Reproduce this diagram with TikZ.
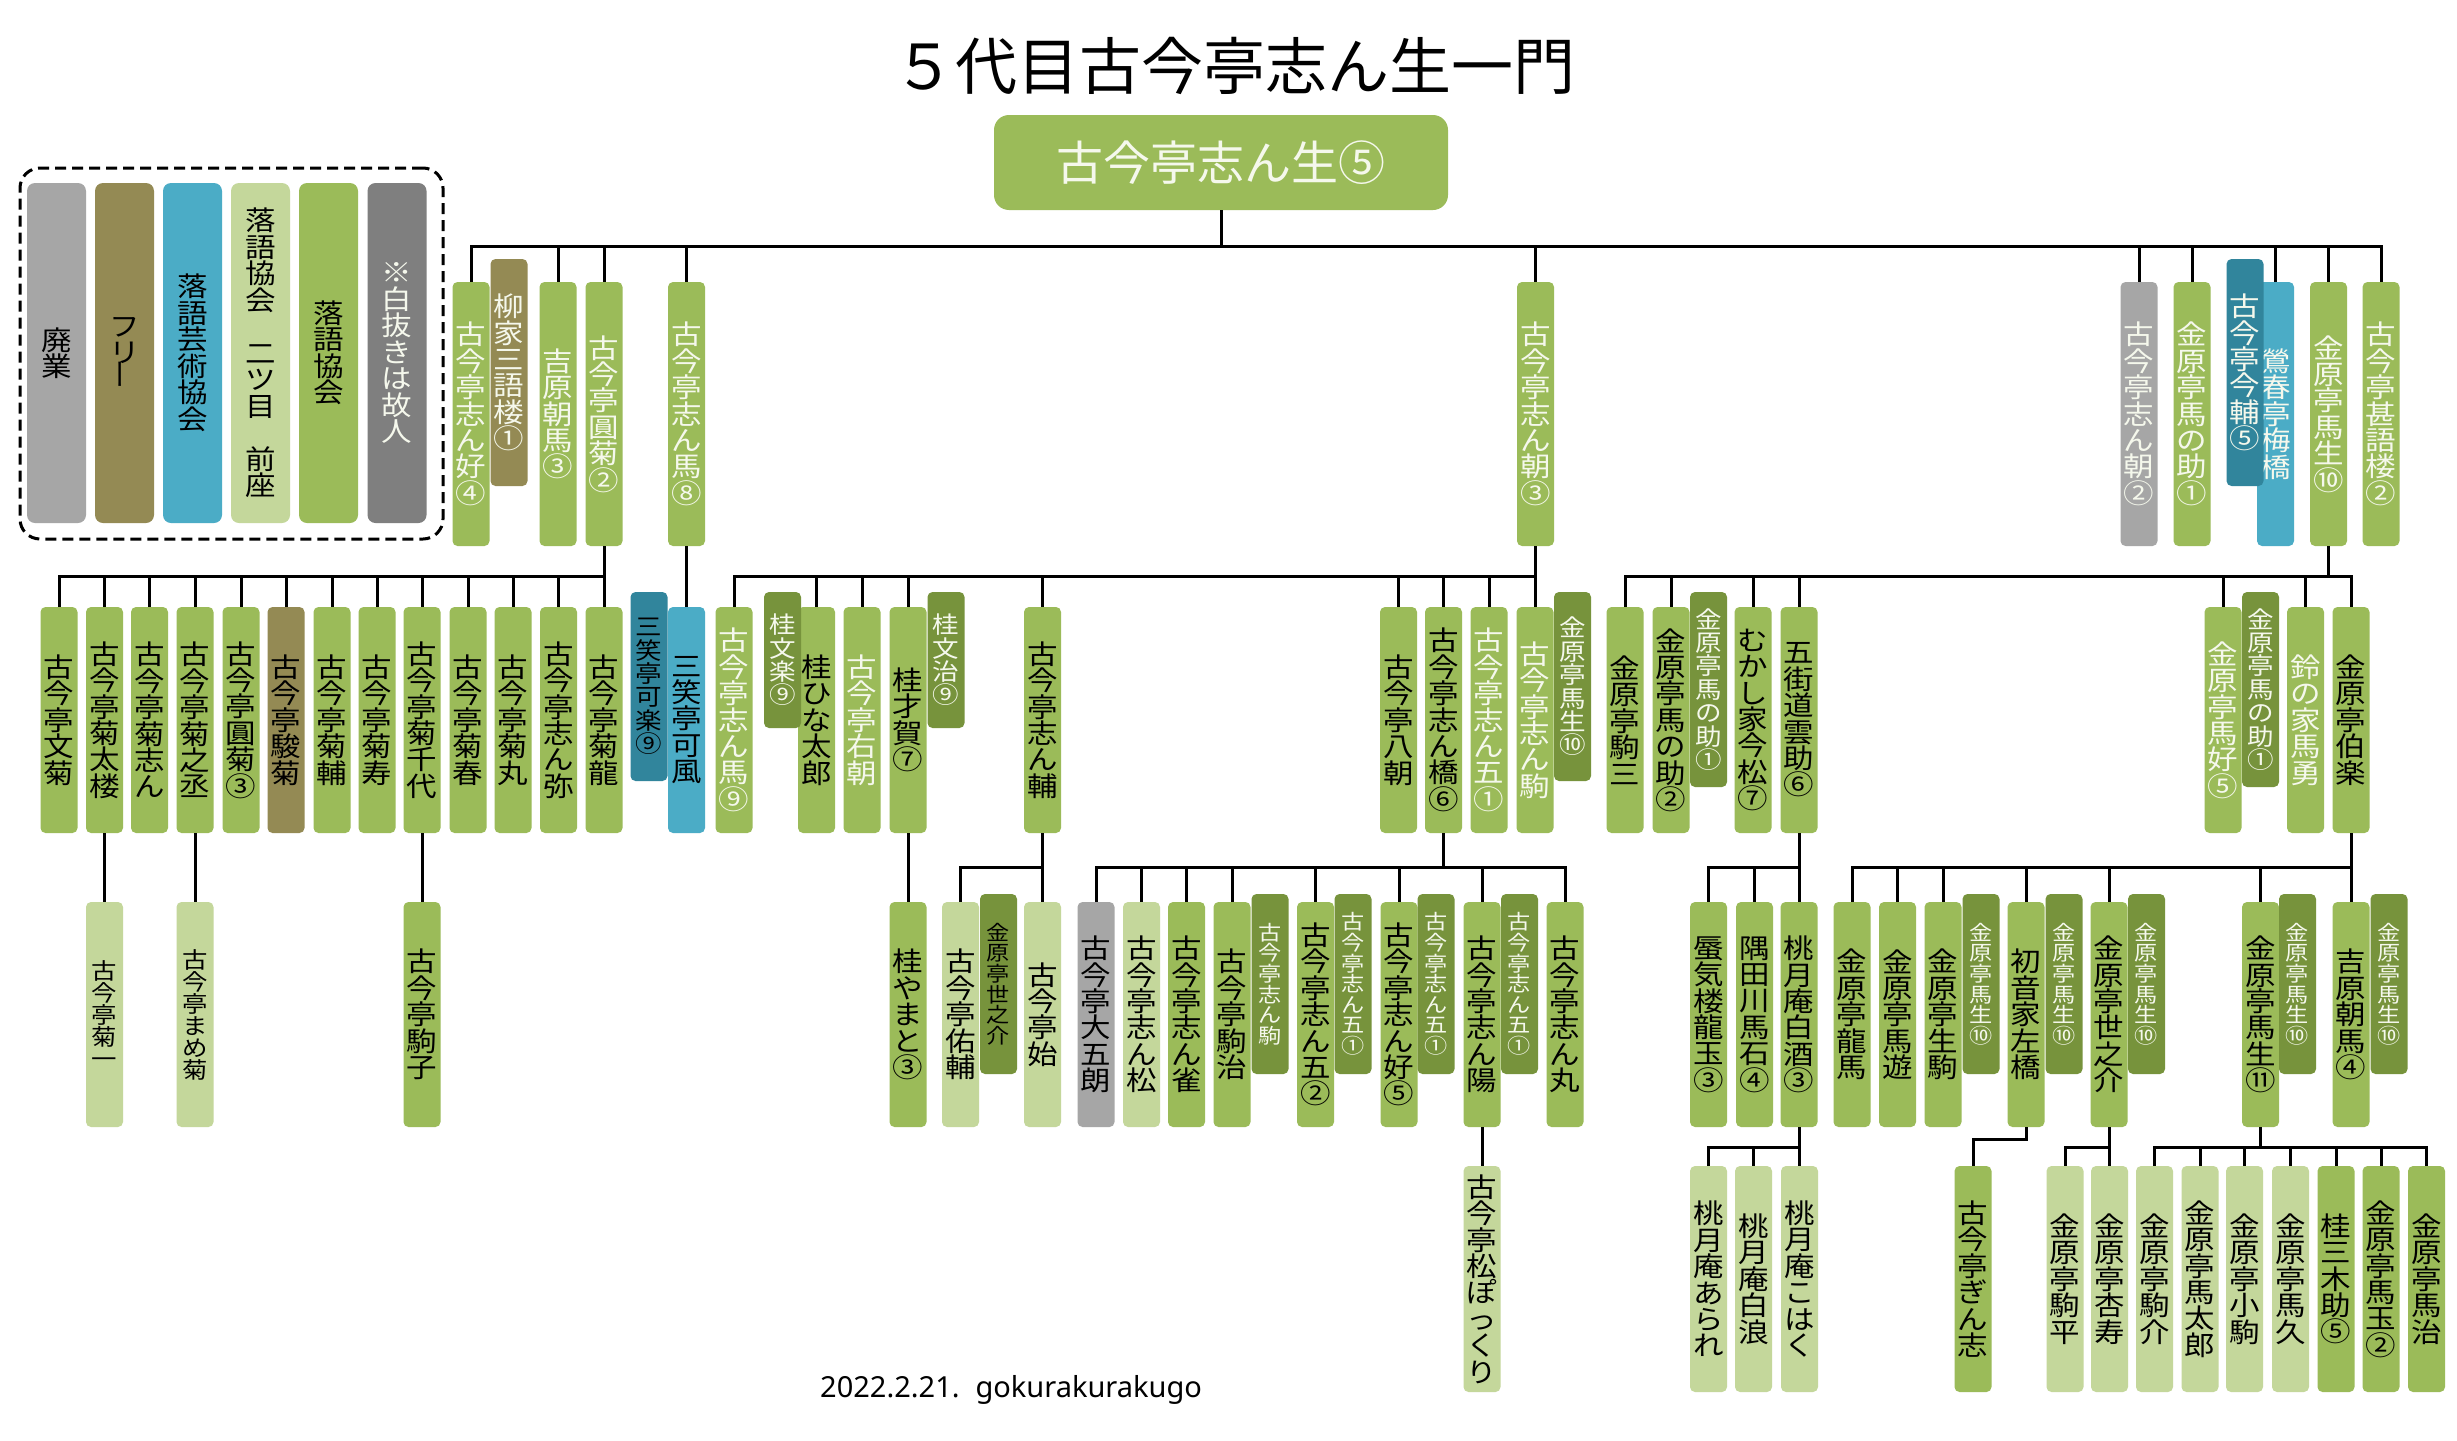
\documentclass[tikz,border=0pt]{standalone}
\usepackage{fontspec}
\usepackage{graphicx}
\setmainfont{Noto Sans CJK JP}
\newfontfamily\vf{Noto Sans CJK JP}[FakeStretch=1.13]
\newfontfamily\footf{Noto Sans}
\definecolor{gM}{HTML}{9BBB59}
\definecolor{gL}{HTML}{C4D79B}
\definecolor{gD}{HTML}{77933C}
\definecolor{kh}{HTML}{948A54}
\definecolor{gy}{HTML}{A6A6A6}
\definecolor{dg}{HTML}{7F7F7F}
\definecolor{bl}{HTML}{4BACC6}
\definecolor{tl}{HTML}{31859C}
\definecolor{wt}{HTML}{F5F8EC}
\makeatletter
\def\vt@end{\vt@end@}
\newcommand\VT[1]{\let\vt@acc\@empty\vt@go#1\vt@end\vt@acc}
\def\vt@go#1{%
  \ifx\vt@end#1%
    \let\vt@next\relax
  \else
    \ifx\vt@acc\@empty
      \def\vt@acc{#1}%
    \else
      \expandafter\def\expandafter\vt@acc\expandafter{\vt@acc\\#1}%
    \fi
    \let\vt@next\vt@go
  \fi
  \vt@next}
\makeatother
\newcommand\fA{\vf\fontsize{27}{26.4}\selectfont\lineskiplimit=-100pt\relax}
\newcommand\fB{\vf\fontsize{23.5}{23.4}\selectfont\lineskiplimit=-100pt\relax}
\newcommand\fC{\vf\fontsize{20.5}{20.6}\selectfont\lineskiplimit=-100pt\relax}
\newcommand\fD{\vf\fontsize{22.5}{22}\selectfont\lineskiplimit=-100pt\relax}
\newcommand\fL{\vf\fontsize{27}{26.5}\selectfont\lineskiplimit=-100pt\relax}
\tikzset{
  bx/.style={rectangle, rounded corners=5pt, inner sep=0pt, minimum width=37pt, align=center, font=\fA},
  rowA/.style={bx, minimum height=264pt},
  ovA/.style={bx, minimum height=227pt},
  rowB/.style={bx, minimum height=226pt},
  ovB/.style={bx, minimum height=189pt, font=\fB},
  ovBm/.style={bx, minimum height=195pt, font=\fB},
  ovBs/.style={bx, minimum height=136pt, font=\fB},
  rowC/.style={bx, minimum height=225pt},
  ovC/.style={bx, minimum height=180pt, font=\fC},
  rowD/.style={bx, minimum height=226pt},
  sM/.style={fill=gM, text=black},
  sMw/.style={fill=gM, text=wt},
  sL/.style={fill=gL, text=black},
  sDw/.style={fill=gD, text=wt},
  sDk/.style={fill=gD, text=black},
  lgb/.style={rectangle, rounded corners=8pt, inner sep=0pt, minimum width=59pt, minimum height=340pt, align=center, font=\fL},
  conn/.style={line width=3pt},
}
\begin{document}
\begin{tikzpicture}[x=1pt,y=-1pt]
\fill[white] (0,0) rectangle (2457,1440);
\useasboundingbox (0,0) rectangle (2457,1440);
% title and root
\node[inner sep=0pt, font=\fontsize{62}{62}\selectfont] (title) at (1234,66) {５代目古今亭志ん生一門};
\node[rectangle, rounded corners=15pt, fill=gM, text=wt, minimum width=454pt, minimum height=95pt, inner sep=0pt, font=\fontsize{47}{47}\selectfont] (root) at (1221,162.5) {古今亭志ん生⑤};
% legend
\node[draw, line width=3pt, dash pattern=on 11pt off 6pt, rounded corners=20pt, minimum width=423pt, minimum height=371pt, inner sep=0pt] (legend) at (231.5,353.5) {};
\node[lgb, fill=gy, text=black] (lg1) at (56.5,353) {\VT{廃業}};
\node[lgb, fill=kh, text=black] (lg2) at (124.5,353) {フ\\リ\\\rotatebox{90}{ー}};
\node[lgb, fill=bl, text=black] (lg3) at (192.5,353) {\VT{落語芸術協会}};
\node[lgb, fill=gL, text=black] (lg4) at (260.5,353) {落\\語\\協\\会\\\mbox{}\\二\\ツ\\目\\\mbox{}\\前\\座};
\node[lgb, fill=gM, text=black] (lg5) at (328.5,353) {\VT{落語協会}};
\node[lgb, fill=dg, text=wt] (lg6) at (397,353) {\VT{※白抜きは故人}};
% row 1
\node[rowA, sMw] (n1a) at (471,414) {\VT{古今亭志ん好④}};
\node[rowA, sMw] (n1c) at (558,414) {\VT{吉原朝馬③}};
\node[rowA, sMw] (n1d) at (604,414) {\VT{古今亭圓菊②}};
\node[rowA, sMw] (n1e) at (686.5,414) {\VT{古今亭志ん馬⑧}};
\node[rowA, sMw] (n1f) at (1535.5,414) {\VT{古今亭志ん朝③}};
\node[rowA, fill=gy, text=wt] (n1g) at (2139,414) {\VT{古今亭志ん朝②}};
\node[rowA, sMw] (n1h) at (2192,414) {\VT{金原亭馬の助①}};
\node[rowA, fill=bl, text=wt] (n1j) at (2275.5,414) {\VT{鶯春亭梅橋}};
\node[rowA, sMw] (n1k) at (2328.5,414) {\VT{金原亭馬生⑩}};
\node[rowA, sMw] (n1l) at (2381,414) {\VT{古今亭甚語楼②}};
\node[ovA, fill=kh, text=wt] (n1b) at (509,372.5) {\VT{柳家三語楼①}};
\node[ovA, fill=tl, text=wt] (n1i) at (2245,372.5) {\VT{古今亭今輔⑤}};
% row 2
\node[rowB, sM] (a1) at (59,720) {\VT{古今亭文菊}};
\node[rowB, sM] (a2) at (104.5,720) {\VT{古今亭菊太楼}};
\node[rowB, sM] (a3) at (149.5,720) {\VT{古今亭菊志ん}};
\node[rowB, sM] (a4) at (195,720) {\VT{古今亭菊之丞}};
\node[rowB, sM] (a5) at (241,720) {\VT{古今亭圓菊③}};
\node[rowB, fill=kh, text=black] (a6) at (286,720) {\VT{古今亭駿菊}};
\node[rowB, sM] (a7) at (332,720) {\VT{古今亭菊輔}};
\node[rowB, sM] (a8) at (377,720) {\VT{古今亭菊寿}};
\node[rowB, sM] (a9) at (422,720) {\VT{古今亭菊千代}};
\node[rowB, sM] (a10) at (468,720) {\VT{古今亭菊春}};
\node[rowB, sM] (a11) at (513,720) {\VT{古今亭菊丸}};
\node[rowB, sM] (a12) at (558.5,720) {\VT{古今亭志ん弥}};
\node[rowB, sM] (a13) at (604,720) {\VT{古今亭菊龍}};
\node[rowB, fill=bl, text=black] (p2) at (686.5,720) {\VT{三笑亭可風}};
\node[rowB, sMw] (b1) at (734,720) {\VT{古今亭志ん馬⑨}};
\node[rowB, sM] (b2) at (816.5,720) {\VT{桂ひな太郎}};
\node[rowB, sMw] (b3) at (862,720) {\VT{古今亭右朝}};
\node[rowB, sM] (b4) at (908,720) {\VT{桂才賀⑦}};
\node[rowB, sM] (b5) at (1042.5,720) {\VT{古今亭志ん輔}};
\node[rowB, sM] (b6) at (1398.5,720) {\VT{古今亭八朝}};
\node[rowB, sM] (b7) at (1443.5,720) {\VT{古今亭志ん橋⑥}};
\node[rowB, sMw] (b8) at (1489,720) {\VT{古今亭志ん五①}};
\node[rowB, sMw] (b9) at (1535,720) {\VT{古今亭志ん駒}};
\node[rowB, sM] (c1) at (1625,720) {\VT{金原亭駒三}};
\node[rowB, sM] (c2) at (1671,720) {\VT{金原亭馬の助②}};
\node[rowB, sM] (c3) at (1753,720) {\VT{むかし家今松⑦}};
\node[rowB, sM] (c4) at (1799,720) {\VT{五街道雲助⑥}};
\node[rowB, sMw] (c5) at (2223,720) {\VT{金原亭馬好⑤}};
\node[rowB, sMw] (c6) at (2305.5,720) {\VT{鈴の家馬勇}};
\node[rowB, sM] (c7) at (2351,720) {\VT{金原亭伯楽}};
\node[ovB, fill=tl, text=black] (p1) at (649,686.5) {\VT{三笑亭可楽⑨}};
\node[ovBs, sDw] (bo1) at (782.5,660) {\VT{桂文楽⑨}};
\node[ovBs, sDw] (bo2) at (946,660) {\VT{桂文治⑨}};
\node[ovB, sDw] (bo3) at (1572.5,686.5) {\VT{金原亭馬生⑩}};
\node[ovBm, sDw] (co1) at (1708.5,689.5) {\VT{金原亭馬の助①}};
\node[ovBm, sDw] (co2) at (2260.5,689.5) {\VT{金原亭馬の助①}};
% row 3
\node[rowC, sL, font=\fD] (d1) at (104.5,1014.5) {\VT{古今亭菊一}};
\node[rowC, sL, font=\fD] (d2) at (195,1014.5) {\VT{古今亭まめ菊}};
\node[rowC, sM] (d3) at (422,1014.5) {\VT{古今亭駒子}};
\node[rowC, sM] (e1) at (908,1014.5) {\VT{桂やまと③}};
\node[rowC, sL] (e2) at (960.5,1014.5) {\VT{古今亭佑輔}};
\node[rowC, sL] (e3) at (1042.5,1014.5) {\VT{古今亭始}};
\node[rowC, fill=gy, text=black] (f1) at (1096,1014.5) {\VT{古今亭大五朗}};
\node[rowC, sL] (f2) at (1141.5,1014.5) {\VT{古今亭志ん松}};
\node[rowC, sM] (f3) at (1186.5,1014.5) {\VT{古今亭志ん雀}};
\node[rowC, sM] (f4) at (1232,1014.5) {\VT{古今亭駒治}};
\node[rowC, sM] (f5) at (1315.5,1014.5) {\VT{古今亭志ん五②}};
\node[rowC, sM] (f6) at (1399,1014.5) {\VT{古今亭志ん好⑤}};
\node[rowC, sM] (f7) at (1482,1014.5) {\VT{古今亭志ん陽}};
\node[rowC, sM] (f8) at (1565,1014.5) {\VT{古今亭志ん丸}};
\node[rowC, sM] (g1) at (1708.5,1014.5) {\VT{蜃気楼龍玉③}};
\node[rowC, sM] (g2) at (1754.5,1014.5) {\VT{隅田川馬石④}};
\node[rowC, sM] (g3) at (1799,1014.5) {\VT{桃月庵白酒③}};
\node[rowC, sM] (h1) at (1852,1014.5) {\VT{金原亭龍馬}};
\node[rowC, sM] (h2) at (1897.5,1014.5) {\VT{金原亭馬遊}};
\node[rowC, sM] (h3) at (1943,1014.5) {\VT{金原亭生駒}};
\node[rowC, sM] (h4) at (2026,1014.5) {\VT{初音家左橋}};
\node[rowC, sM] (h5) at (2109,1014.5) {\VT{金原亭世之介}};
\node[rowC, sM] (h6) at (2260.5,1014.5) {\VT{金原亭馬生⑪}};
\node[rowC, sM] (h7) at (2351,1014.5) {\VT{吉原朝馬④}};
\node[ovC, sDk] (eo1) at (998.5,984) {\VT{金原亭世之介}};
\node[ovC, sDw] (fo1) at (1270,984) {\VT{古今亭志ん駒}};
\node[ovC, sDw] (fo2) at (1353,984) {\VT{古今亭志ん五①}};
\node[ovC, sDw] (fo3) at (1436,984) {\VT{古今亭志ん五①}};
\node[ovC, sDw] (fo4) at (1519.5,984) {\VT{古今亭志ん五①}};
\node[ovC, sDw] (ho1) at (1981,984) {\VT{金原亭馬生⑩}};
\node[ovC, sDw] (ho2) at (2064,984) {\VT{金原亭馬生⑩}};
\node[ovC, sDw] (ho3) at (2146.5,984) {\VT{金原亭馬生⑩}};
\node[ovC, sDw] (ho4) at (2297.5,984) {\VT{金原亭馬生⑩}};
\node[ovC, sDw] (ho5) at (2389,984) {\VT{金原亭馬生⑩}};
% row 4
\node[rowD, sL] (i1) at (1482,1279) {\VT{古今亭松ぽっくり}};
\node[rowD, sL] (j1) at (1708.5,1279) {\VT{桃月庵あられ}};
\node[rowD, sL] (j2) at (1753.5,1279) {\VT{桃月庵白浪}};
\node[rowD, sL] (j3) at (1799.5,1279) {\VT{桃月庵こはく}};
\node[rowD, sM] (k1) at (1973,1279) {\VT{古今亭ぎん志}};
\node[rowD, sL] (k2) at (2065,1279) {\VT{金原亭駒平}};
\node[rowD, sL] (k3) at (2109.5,1279) {\VT{金原亭杏寿}};
\node[rowD, sL] (m1) at (2154.5,1279) {\VT{金原亭駒介}};
\node[rowD, sL] (m2) at (2200,1279) {\VT{金原亭馬太郎}};
\node[rowD, sL] (m3) at (2244.5,1279) {\VT{金原亭小駒}};
\node[rowD, sL] (m4) at (2290.5,1279) {\VT{金原亭馬久}};
\node[rowD, sM] (m5) at (2336,1279) {\VT{桂三木助⑤}};
\node[rowD, sM] (m6) at (2381,1279) {\VT{金原亭馬玉②}};
\node[rowD, sM] (m7) at (2426.5,1279) {\VT{金原亭馬治}};
% footer
\node[anchor=base west, inner sep=0pt, font=\footf\fontsize{29}{29}\selectfont] (foot) at (820,1397) {2022.2.21.\hspace{0.55em}gokurakurakugo};
% bus coordinates
\coordinate (y1) at (0,246);
\coordinate (y2) at (0,576);
\coordinate (y3) at (0,867);
\coordinate (y4) at (0,1147);
\coordinate (y5) at (0,1139);
% connectors
\foreach \c in {n1a,n1c,n1d,n1e,n1f,n1g,n1h,n1j,n1k,n1l}
  \draw[conn] (root.south) -- (root.south |- y1) -| (\c.north);
\foreach \c in {a1,a2,a3,a4,a5,a6,a7,a8,a9,a10,a11,a12,a13}
  \draw[conn] (n1d.south) -- (n1d.south |- y2) -| (\c.north);
\draw[conn] (n1e.south) -- (p2.north);
\foreach \c in {b1,b2,b3,b4,b5,b6,b7,b8,b9}
  \draw[conn] (n1f.south) -- (n1f.south |- y2) -| (\c.north);
\foreach \c in {c1,c2,c3,c4,c5,c6,c7}
  \draw[conn] (n1k.south) -- (n1k.south |- y2) -| (\c.north);
\draw[conn] (a2.south) -- (d1.north);
\draw[conn] (a4.south) -- (d2.north);
\draw[conn] (a9.south) -- (d3.north);
\draw[conn] (b4.south) -- (e1.north);
\foreach \c in {e2,e3}
  \draw[conn] (b5.south) -- (b5.south |- y3) -| (\c.north);
\foreach \c in {f1,f2,f3,f4,f5,f6,f7,f8}
  \draw[conn] (b7.south) -- (b7.south |- y3) -| (\c.north);
\foreach \c in {g1,g2,g3}
  \draw[conn] (c4.south) -- (c4.south |- y3) -| (\c.north);
\foreach \c in {h1,h2,h3,h4,h5,h6,h7}
  \draw[conn] (c7.south) -- (c7.south |- y3) -| (\c.north);
\draw[conn] (f7.south) -- (i1.north);
\foreach \c in {j1,j2,j3}
  \draw[conn] (g3.south) -- (g3.south |- y4) -| (\c.north);
\draw[conn] (h4.south) -- (h4.south |- y5) -| (k1.north);
\foreach \c in {k2,k3}
  \draw[conn] (h5.south) -- (h5.south |- y4) -| (\c.north);
\foreach \c in {m1,m2,m3,m4,m5,m6,m7}
  \draw[conn] (h6.south) -- (h6.south |- y4) -| (\c.north);
\end{tikzpicture}
\end{document}
